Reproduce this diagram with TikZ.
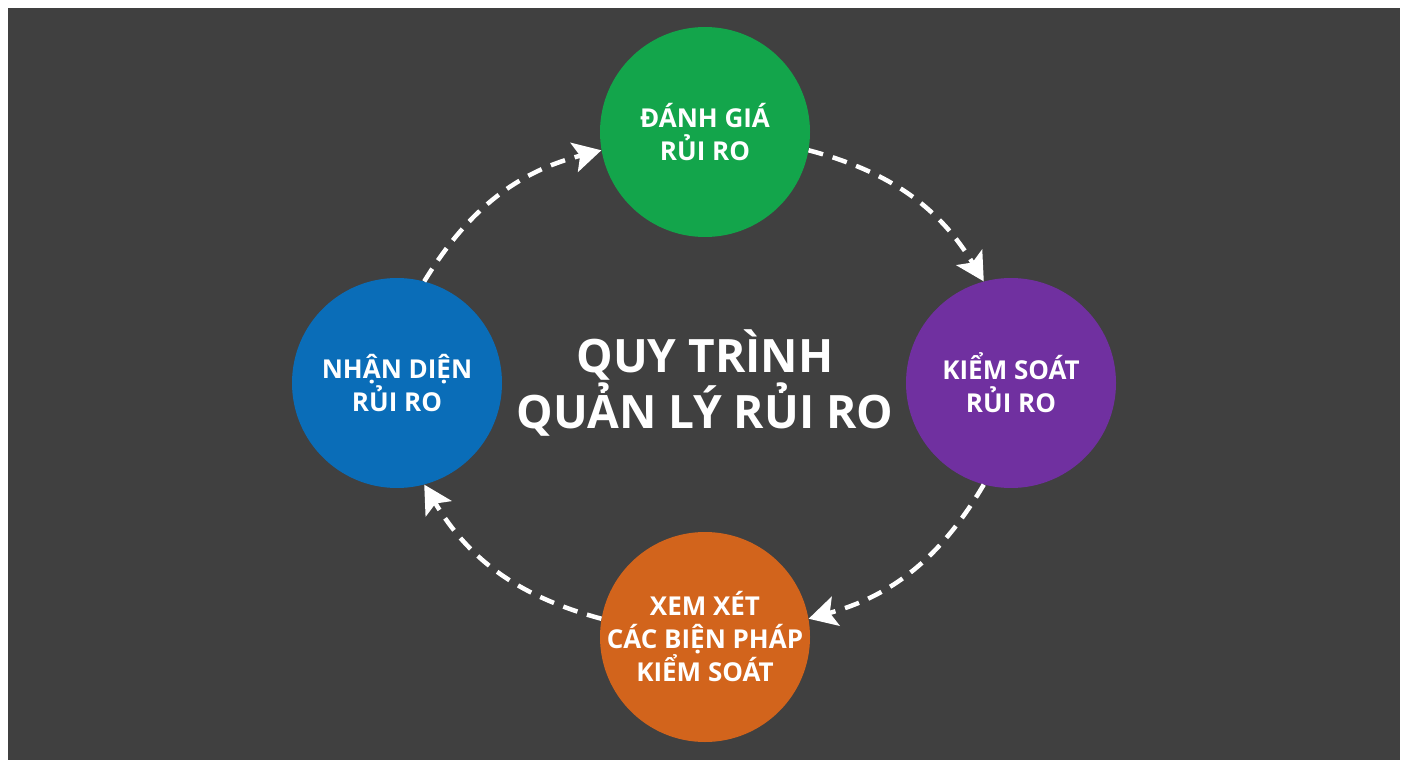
\documentclass[tikz,border=0pt]{standalone}
\usepackage{fontspec}
\setmainfont{Open Sans}[BoldFont={Open Sans Bold}]
\usetikzlibrary{arrows.meta}
\definecolor{bg}{HTML}{404040}
\definecolor{cgreen}{HTML}{13A54B}
\definecolor{cblue}{HTML}{0A6DB8}
\definecolor{cpurple}{HTML}{7030A0}
\definecolor{corange}{HTML}{D2641C}
\begin{document}
\begin{tikzpicture}[x=1pt,y=-1pt,
  stage/.style={circle,minimum size=210pt,inner sep=0pt},
  txt/.style={text=white,align=center,font=\bfseries\fontsize{26}{33}\selectfont},
  flow/.style={white,line width=4.5pt,dash pattern=on 15pt off 10pt,-{Stealth[length=28pt,width=30pt,inset=6pt]}}]
\fill[white] (0,0) rectangle (1408,768);
\fill[bg] (8,8) rectangle (1400,760);
\useasboundingbox (0,0) rectangle (1408,768);
\node[stage,fill=cgreen] (g) at (705,132) {};
\node[txt] (gt) at (g.center) {ĐÁNH GIÁ\\RỦI RO};
\node[stage,fill=cblue] (b) at (397,383) {};
\node[txt] (bt) at (b.center) {NHẬN DIỆN\\RỦI RO};
\node[stage,fill=cpurple] (p) at (1011,383) {};
\node[txt] (pt) at (p.center) {KIỂM SOÁT\\RỦI RO};
\node[stage,fill=corange] (o) at (705,637) {};
\node[txt] (ot) at (o.center) {XEM XÉT\\CÁC BIỆN PHÁP\\KIỂM SOÁT};
\node[text=white,align=center,font=\bfseries\fontsize{46}{56}\selectfont] (t) at (705,383) {QUY TRÌNH\\QUẢN LÝ RỦI RO};
\draw[flow] (b.75) to[bend left=22] (g.190);
\draw[flow] (g.-10) to[bend left=22] (p.105);
\draw[flow] (p.-105) to[bend left=22] (o.10);
\draw[flow] (o.170) to[bend left=22] (b.-75);
\end{tikzpicture}
\end{document}
